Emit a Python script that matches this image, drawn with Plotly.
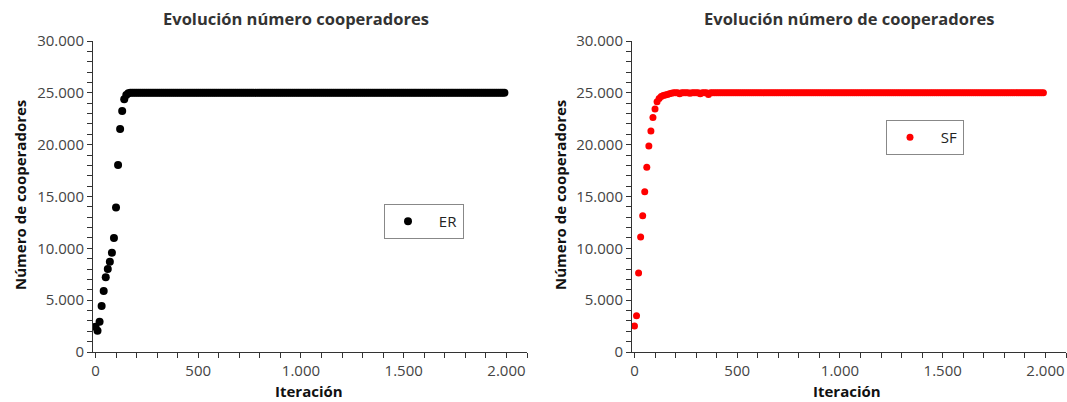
import plotly.graph_objects as go

# Iterations (sampled every 10)
ITER = list(range(0, 2000, 10))

ER = [
    2440, 2050, 2920, 4430, 5880, 7200, 8000, 8710, 9580, 11000,
    13950, 18030, 21500, 23240, 24370, 24800, 24950, 25000, 25000, 25000,
    25000, 25000, 25000, 25000, 25000, 25000, 25000, 25000, 25000, 25000,
    25000, 25000, 25000, 25000, 25000, 25000, 25000, 25000, 25000, 25000,
    25000, 25000, 25000, 25000, 25000, 25000, 25000, 25000, 25000, 25000,
    25000, 25000, 25000, 25000, 25000, 25000, 25000, 25000, 25000, 25000,
    25000, 25000, 25000, 25000, 25000, 25000, 25000, 25000, 25000, 25000,
    25000, 25000, 25000, 25000, 25000, 25000, 25000, 25000, 25000, 25000,
    25000, 25000, 25000, 25000, 25000, 25000, 25000, 25000, 25000, 25000,
    25000, 25000, 25000, 25000, 25000, 25000, 25000, 25000, 25000, 25000,
    25000, 25000, 25000, 25000, 25000, 25000, 25000, 25000, 25000, 25000,
    25000, 25000, 25000, 25000, 25000, 25000, 25000, 25000, 25000, 25000,
    25000, 25000, 25000, 25000, 25000, 25000, 25000, 25000, 25000, 25000,
    25000, 25000, 25000, 25000, 25000, 25000, 25000, 25000, 25000, 25000,
    25000, 25000, 25000, 25000, 25000, 25000, 25000, 25000, 25000, 25000,
    25000, 25000, 25000, 25000, 25000, 25000, 25000, 25000, 25000, 25000,
    25000, 25000, 25000, 25000, 25000, 25000, 25000, 25000, 25000, 25000,
    25000, 25000, 25000, 25000, 25000, 25000, 25000, 25000, 25000, 25000,
    25000, 25000, 25000, 25000, 25000, 25000, 25000, 25000, 25000, 25000,
    25000, 25000, 25000, 25000, 25000, 25000, 25000, 25000, 25000, 25000,
]

SF = [
    2510, 3500, 7620, 11090, 13140, 15460, 17810, 19870, 21310, 22630,
    23430, 24140, 24460, 24650, 24750, 24800, 24850, 24900, 24950, 25000,
    25000, 25000, 24900, 25000, 25000, 25000, 25000, 24950, 25000, 25000,
    25000, 25000, 24900, 25000, 25000, 25000, 24850, 25000, 25000, 25000,
    25000, 25000, 25000, 25000, 25000, 25000, 25000, 25000, 25000, 25000,
    25000, 25000, 25000, 25000, 25000, 25000, 25000, 25000, 25000, 25000,
    25000, 25000, 25000, 25000, 25000, 25000, 25000, 25000, 25000, 25000,
    25000, 25000, 25000, 25000, 25000, 25000, 25000, 25000, 25000, 25000,
    25000, 25000, 25000, 25000, 25000, 25000, 25000, 25000, 25000, 25000,
    25000, 25000, 25000, 25000, 25000, 25000, 25000, 25000, 25000, 25000,
    25000, 25000, 25000, 25000, 25000, 25000, 25000, 25000, 25000, 25000,
    25000, 25000, 25000, 25000, 25000, 25000, 25000, 25000, 25000, 25000,
    25000, 25000, 25000, 25000, 25000, 25000, 25000, 25000, 25000, 25000,
    25000, 25000, 25000, 25000, 25000, 25000, 25000, 25000, 25000, 25000,
    25000, 25000, 25000, 25000, 25000, 25000, 25000, 25000, 25000, 25000,
    25000, 25000, 25000, 25000, 25000, 25000, 25000, 25000, 25000, 25000,
    25000, 25000, 25000, 25000, 25000, 25000, 25000, 25000, 25000, 25000,
    25000, 25000, 25000, 25000, 25000, 25000, 25000, 25000, 25000, 25000,
    25000, 25000, 25000, 25000, 25000, 25000, 25000, 25000, 25000, 25000,
    25000, 25000, 25000, 25000, 25000, 25000, 25000, 25000, 25000, 25000,
]

TITLES = ["Evolución número cooperadores", "Evolución número de cooperadores"]
X_TITLE = "Iteración"
Y_TITLE = "Número de cooperadores"
NAMES = ["ER", "SF"]

W, H = 1067, 402
FONT = "Open Sans"
PAD = "\u00a0\u00a0"

fig = go.Figure()
fig.add_trace(go.Scatter(x=ITER, y=ER, mode="markers", name=PAD + NAMES[0],
                         marker=dict(color="#000000", size=8), showlegend=True,
                         xaxis="x", yaxis="y", legend="legend"))
fig.add_trace(go.Scatter(x=ITER, y=SF, mode="markers", name=PAD + NAMES[1],
                         marker=dict(color="#ff0000", size=7), showlegend=True,
                         xaxis="x2", yaxis="y2", legend="legend2"))

def xax(domain, anchor):
    return dict(domain=domain, anchor=anchor, range=[-12, 2100], tick0=0, dtick=500,
                automargin=False,
                ticks="outside", ticklen=5, tickcolor="#333", showline=True,
                linecolor="#333", linewidth=1, showgrid=False, zeroline=False,
                tickformat=",d", tickfont=dict(family=FONT, size=15, color="#444"),
                minor=dict(dtick=100, tick0=0, ticks="outside", ticklen=5,
                           tickcolor="#333", showgrid=False))

def yax(anchor):
    return dict(domain=[50 / H, 361 / H], anchor=anchor, range=[0, 30000], tick0=0,
                automargin=False,
                dtick=5000, ticks="outside", ticklen=5, tickcolor="#333",
                showline=True, linecolor="#333", linewidth=1, showgrid=False,
                zeroline=False, tickformat=",d",
                tickfont=dict(family=FONT, size=15, color="#444"),
                minor=dict(dtick=1000, tick0=0, ticks="outside", ticklen=5,
                           tickcolor="#333", showgrid=False))

leg = dict(xanchor="left", yanchor="top", bordercolor="#888", borderwidth=1,
           bgcolor="white", font=dict(family=FONT, size=15, color="#222"),
           itemwidth=36)

ann = []
for xc, t in [(296, TITLES[0]), (849, TITLES[1])]:
    ann.append(dict(text=f"<b>{t}</b>", x=xc / W, y=1 - 19 / H, xref="paper", yref="paper",
                    showarrow=False, xanchor="center", yanchor="middle",
                    font=dict(family=FONT, size=16.5, color="#333")))
for xc in [309, 847]:
    ann.append(dict(text=f"<b>{X_TITLE}</b>", x=xc / W, y=1 - 391 / H, xref="paper",
                    yref="paper", showarrow=False, xanchor="center", yanchor="middle",
                    font=dict(family=FONT, size=15, color="#111")))
for xc in [20, 560]:
    ann.append(dict(text=f"<b>{Y_TITLE}</b>", x=xc / W, y=1 - 195 / H, xref="paper",
                    yref="paper", showarrow=False, xanchor="center", yanchor="middle",
                    textangle=-90, font=dict(family=FONT, size=15, color="#111")))

fig.update_layout(
    width=W, height=H, margin=dict(l=0, r=0, t=0, b=0, pad=0, autoexpand=False),
    paper_bgcolor="white", plot_bgcolor="white",
    separators=",.", showlegend=True,
    xaxis=xax([93 / W, 527 / W], "y"),
    yaxis=yax("x"),
    xaxis2=xax([632 / W, 1066 / W], "y2"),
    yaxis2=yax("x2"),
    legend=dict(x=384 / W, y=1 - 204 / H, **leg),
    legend2=dict(x=886 / W, y=1 - 120 / H, **leg),
    annotations=ann,
    font=dict(family=FONT),
)

fig.write_html("out.html")
